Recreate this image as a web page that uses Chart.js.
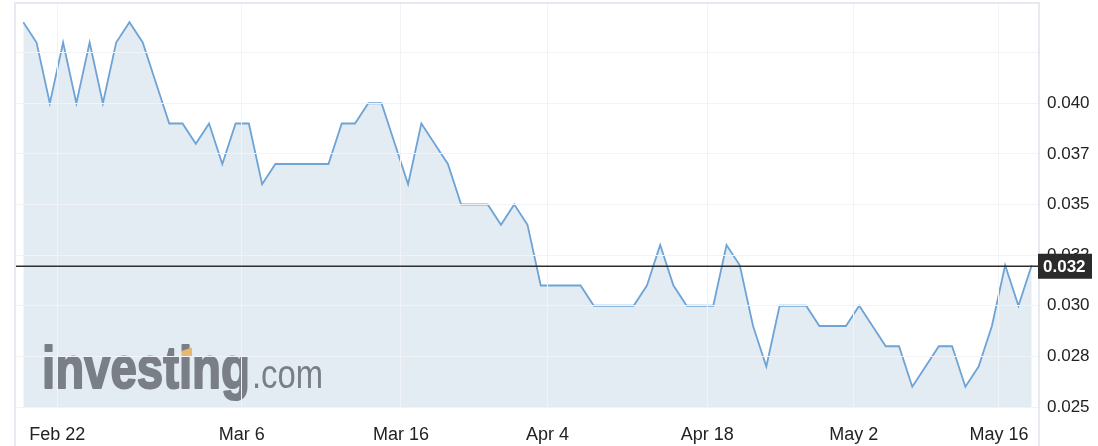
<!DOCTYPE html>
<html>
<head>
<meta charset="utf-8">
<script src="https://cdn.jsdelivr.net/npm/chart.js@4.4.1/dist/chart.umd.min.js"></script>
<style>
    html, body { margin: 0; padding: 0; background: #fff; }
    #wrap { width: 1098px; height: 446px; position: relative; }
</style>
</head>
<body>
<div id="wrap"><canvas id="priceChart"></canvas></div>
<script>
// price points, one per step along the x axis
const prices = [
    0.044, 0.043, 0.040, 0.043, 0.040, 0.043, 0.040, 0.043, 0.044, 0.043,
    0.041, 0.039, 0.039, 0.038, 0.039, 0.037, 0.039, 0.039, 0.036, 0.037,
    0.037, 0.037, 0.037, 0.037, 0.039, 0.039, 0.040, 0.040, 0.038, 0.036,
    0.039, 0.038, 0.037, 0.035, 0.035, 0.035, 0.034, 0.035, 0.034, 0.031,
    0.031, 0.031, 0.031, 0.030, 0.030, 0.030, 0.030, 0.031, 0.033, 0.031,
    0.030, 0.030, 0.030, 0.033, 0.032, 0.029, 0.027, 0.030, 0.030, 0.030,
    0.029, 0.029, 0.029, 0.030, 0.029, 0.028, 0.028, 0.026, 0.027, 0.028,
    0.028, 0.026, 0.027, 0.029, 0.032, 0.030, 0.032
];

// date ticks and where they fall between the points
const xTickLabels = ['Feb 22', 'Mar 6', 'Mar 16', 'Apr 4', 'Apr 18', 'May 2', 'May 16'];
const xTickPos = [2.56, 16.46, 28.46, 39.5, 51.55, 62.58, 73.53];

const yTickValues = [0.025, 0.0275, 0.030, 0.0325, 0.035, 0.0375, 0.040, 0.0425];
const yTickLabels = ['0.025', '0.028', '0.030', '0.032', '0.035', '0.037', '0.040', ''];

const lastPrice = prices[prices.length - 1];

Chart.defaults.font.family = "'Liberation Sans', Arial, sans-serif";
Chart.defaults.color = '#222';

// watermark, frame and current price marker
const decorations = {
    id: 'decorations',
    afterDatasetsDraw(chart) {
        const ctx = chart.ctx;
        ctx.save();
        ctx.fillStyle = '#7a7f87';
        ctx.strokeStyle = '#7a7f87';
        ctx.lineJoin = 'round';
        ctx.textBaseline = 'alphabetic';
        ctx.font = "bold 60px 'Liberation Sans', Arial, sans-serif";
        let w = ctx.measureText('investing').width;
        ctx.save();
        ctx.translate(42, 388);
        ctx.scale(208 / w, 1);
        ctx.lineWidth = 2;
        ctx.fillText('investing', 0, 0);
        ctx.strokeText('investing', 0, 0);
        ctx.restore();
        ctx.font = "40px 'Liberation Sans', Arial, sans-serif";
        w = ctx.measureText('.com').width;
        ctx.save();
        ctx.translate(252, 388);
        ctx.scale(71 / w, 1);
        ctx.fillText('.com', 0, 0);
        ctx.restore();
        ctx.fillStyle = '#e9b870';
        ctx.beginPath();
        ctx.moveTo(181.5, 351);
        ctx.lineTo(192, 347.5);
        ctx.lineTo(192, 357);
        ctx.lineTo(181.5, 357);
        ctx.closePath();
        ctx.fill();
        ctx.restore();
    },
    afterDraw(chart) {
        const ctx = chart.ctx;
        const area = chart.chartArea;
        const y = chart.scales.y.getPixelForValue(lastPrice) + 1;
        ctx.save();
        // frame
        ctx.strokeStyle = '#e6eaf0';
        ctx.lineWidth = 2;
        ctx.beginPath();
        ctx.moveTo(area.left - 1, chart.height);
        ctx.lineTo(area.left - 1, area.top + 1);
        ctx.lineTo(area.right, area.top + 1);
        ctx.lineTo(area.right, chart.height);
        ctx.stroke();
        // current price line
        ctx.strokeStyle = '#2e2e2e';
        ctx.lineWidth = 1.5;
        ctx.beginPath();
        ctx.moveTo(area.left, y);
        ctx.lineTo(area.right, y);
        ctx.stroke();
        // price box
        ctx.fillStyle = '#2b2b2b';
        ctx.fillRect(area.right - 1, y - 12.5, 54, 25);
        ctx.fillStyle = '#fff';
        ctx.font = "bold 17px 'Liberation Sans', Arial, sans-serif";
        ctx.textBaseline = 'middle';
        ctx.textAlign = 'left';
        ctx.fillText(lastPrice.toFixed(3), area.right + 4, y + 1);
        ctx.restore();
    }
};

function noPadding(scale) {
    scale.paddingTop = 0;
    scale.paddingBottom = 0;
    scale.paddingLeft = 0;
    scale.paddingRight = 0;
}

let ctx = document.getElementById('priceChart').getContext('2d');
let chart = new Chart(ctx, {
    type: 'line',
    data: {
        datasets: [{
            data: prices.map((p, i) => ({ x: i, y: p })),
            borderColor: '#6ea3d5',
            borderWidth: 1.8,
            backgroundColor: '#e3ecf3',
            fill: 'start',
            tension: 0,
            pointRadius: 0
        }]
    },
    options: {
        responsive: true,
        maintainAspectRatio: false,
        animation: false,
        layout: { padding: { left: 16, top: 2, right: 0, bottom: 0 } },
        plugins: {
            legend: { display: false },
            tooltip: { enabled: false }
        },
        scales: {
            x: {
                type: 'linear',
                min: -0.55,
                max: 76.55,
                afterBuildTicks: scale => {
                    scale.ticks = xTickPos.map(v => ({ value: v }));
                },
                afterFit: scale => { scale.height = 39; noPadding(scale); },
                grid: { color: '#f1f3f6', drawTicks: false, z: 1 },
                border: { display: false },
                ticks: {
                    autoSkip: false,
                    maxRotation: 0,
                    padding: 17,
                    font: { size: 18 },
                    callback: (value, index) => xTickLabels[index]
                }
            },
            y: {
                position: 'right',
                min: 0.025,
                max: 0.045,
                afterBuildTicks: scale => {
                    scale.ticks = yTickValues.map(v => ({ value: v }));
                },
                afterFit: scale => { scale.width = 59; noPadding(scale); },
                grid: { color: '#f1f3f6', drawTicks: false, z: 1 },
                border: { display: false },
                ticks: {
                    padding: 8,
                    font: { size: 17 },
                    callback: (value, index) => yTickLabels[index]
                }
            }
        }
    },
    plugins: [decorations]
});
</script>
</body>
</html>
